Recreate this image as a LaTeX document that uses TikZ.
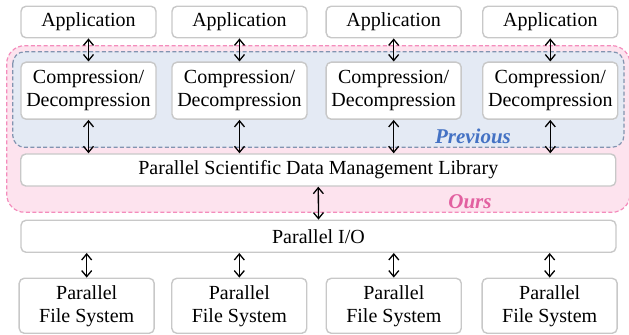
\documentclass[tikz,border=0pt]{standalone}
\usepackage{fontspec}
\setmainfont{Liberation Serif}
\usetikzlibrary{arrows.meta, positioning}
\definecolor{boxgray}{RGB}{200, 200, 200}
\definecolor{prevfill}{RGB}{228, 234, 244}
\definecolor{prevline}{RGB}{130, 148, 176}
\definecolor{prevtext}{RGB}{68, 114, 196}
\definecolor{oursfill}{RGB}{253, 227, 238}
\definecolor{oursline}{RGB}{244, 140, 188}
\definecolor{ourstext}{RGB}{226, 96, 160}
\tikzset{
    % Column boxes
    layer box/.style={
        rectangle, rounded corners=2.5pt, draw=boxgray, line width=0.7pt,
        fill=white, minimum width=67.5pt, align=center,
        font=\fontsize{10}{11.5}\selectfont, inner sep=1pt
    },
    % Full-width boxes
    wide box/.style={
        layer box, minimum width=297.5pt, minimum height=16pt
    },
    % Double arrows
    link arrow/.style={
        {Straight Barb[length=3pt, width=5pt]}-{Straight Barb[length=3pt, width=5pt]},
        line width=0.65pt, black
    },
    % Shaded zones
    ours zone/.style={
        draw=oursline, fill=oursfill, line width=0.6pt,
        dash pattern=on 2pt off 1.2pt, rounded corners=9pt
    },
    prev zone/.style={
        draw=prevline, fill=prevfill, line width=0.6pt,
        dash pattern=on 2pt off 1.2pt, rounded corners=6pt
    },
    zone label/.style={
        font=\fontsize{10.5}{12}\selectfont\bfseries\itshape
    }
}

\begin{document}
\begin{tikzpicture}[x=0.5pt, y=-0.5pt]

    \useasboundingbox (0, 0) rectangle (629, 335);

    % Zones
    \draw[ours zone] (6.7, 45.7) rectangle (630, 212.3);
    \draw[prev zone] (12.7, 51.7) rectangle (624, 147.3);
    \node[zone label, prevtext] (prevlabel) at (473, 136) {Previous};
    \node[zone label, ourstext] (ourslabel) at (470, 201.5) {Ours};

    % Applications
    \node[layer box, minimum height=15.75pt] (app1) at (88.5, 22) {Application};
    \node[layer box, minimum height=15.75pt] (app2) at (239.5, 22) {Application};
    \node[layer box, minimum height=15.75pt] (app3) at (393.7, 22) {Application};
    \node[layer box, minimum height=15.75pt] (app4) at (550.3, 22) {Application};

    % Compression layer
    \node[layer box, minimum height=28.5pt] (comp1) at (88.5, 90.7) {Compression/\\Decompression};
    \node[layer box, minimum height=28.5pt] (comp2) at (239.5, 90.7) {Compression/\\Decompression};
    \node[layer box, minimum height=28.5pt] (comp3) at (393.7, 90.7) {Compression/\\Decompression};
    \node[layer box, minimum height=28.5pt] (comp4) at (550.3, 90.7) {Compression/\\Decompression};

    % Library and I/O
    \node[wide box] (lib) at (318.3, 170) {Parallel Scientific Data Management Library};
    \node[wide box] (pio) at (318.5, 236.3) {Parallel I/O};

    % File systems
    \node[layer box, minimum height=27.5pt] (pfs1) at (86.7, 305.8) {Parallel\\File System};
    \node[layer box, minimum height=27.5pt] (pfs2) at (239.3, 305.8) {Parallel\\File System};
    \node[layer box, minimum height=27.5pt] (pfs3) at (393.8, 305.8) {Parallel\\File System};
    \node[layer box, minimum height=27.5pt] (pfs4) at (549.7, 305.8) {Parallel\\File System};

    % Application <-> compression
    \draw[link arrow] (app1.south) -- (comp1.north);
    \draw[link arrow] (app2.south) -- (comp2.north);
    \draw[link arrow] (app3.south) -- (comp3.north);
    \draw[link arrow] (app4.south) -- (comp4.north);

    % Compression <-> library
    \draw[link arrow] (comp1.south) -- (comp1.south |- lib.north);
    \draw[link arrow] (comp2.south) -- (comp2.south |- lib.north);
    \draw[link arrow] (comp3.south) -- (comp3.south |- lib.north);
    \draw[link arrow] (comp4.south) -- (comp4.south |- lib.north);

    % Library <-> parallel I/O
    \draw[link arrow] (lib.south) -- (pio.north);

    % Parallel I/O <-> file systems
    \draw[link arrow] (pfs1.north |- pio.south) -- (pfs1.north);
    \draw[link arrow] (pfs2.north |- pio.south) -- (pfs2.north);
    \draw[link arrow] (pfs3.north |- pio.south) -- (pfs3.north);
    \draw[link arrow] (pfs4.north |- pio.south) -- (pfs4.north);

\end{tikzpicture}
\end{document}
